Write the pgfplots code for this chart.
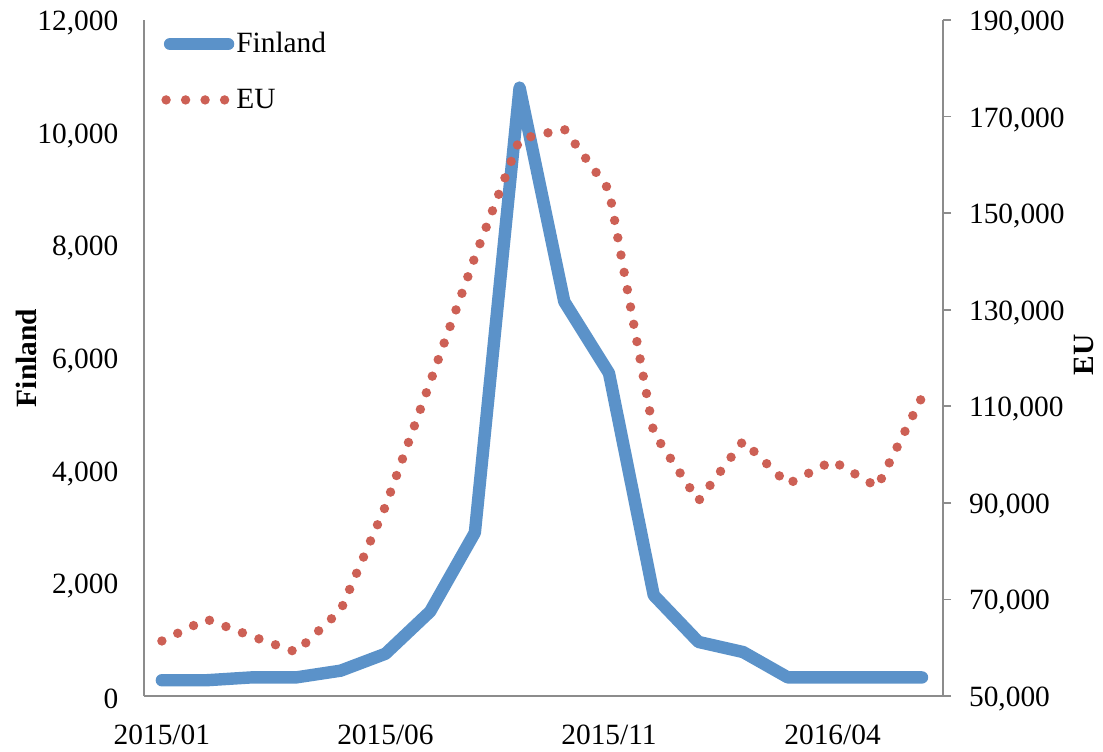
\documentclass[border=0pt]{standalone}
\usepackage{fontspec}
\setmainfont{Liberation Serif}
\usepackage{pgfplots}
\pgfplotsset{compat=1.18}
\definecolor{finblue}{RGB}{91,146,201}
\definecolor{eured}{RGB}{205,96,85}
\definecolor{axgray}{RGB}{140,140,140}

\pgfplotstableread{
x y
0 280
1 280
2 330
3 330
4 450
5 750
6 1500
7 2900
8 10800
9 7000
10 5730
11 1790
12 960
13 780
14 330
15 330
16 330
17 330
}\finland

\pgfplotstableread{
x y
0 61400
1 65900
2 62400
3 59100
4 67800
5 89300
6 115000
7 140900
8 165300
9 167400
10 154800
11 104500
12 90400
13 102800
14 93900
15 98700
16 93300
17 111900
}\eu

\newcommand{\tfont}{\fontsize{14.7pt}{17pt}\selectfont}

\begin{document}
\begin{tikzpicture}
\useasboundingbox (-72pt,-27.5pt) rectangle (479.5pt,348pt);
\begin{axis}[
  at={(0pt,0pt)}, anchor=south west,
  scale only axis, width=399.5pt, height=338pt,
  xmin=-0.4, xmax=17.47, ymin=0, ymax=12000,
  axis x line*=bottom, axis y line*=left,
  axis line style={axgray, line width=0.9pt, -},
  xtick={0,5,10,15}, xticklabels={2015/01,2015/06,2015/11,2016/04},
  ytick={0,2000,4000,6000,8000,10000,12000},
  yticklabels={0,{2,000},{4,000},{6,000},{8,000},{10,000},{12,000}},
  major tick length=0pt,
  scaled y ticks=false,
  tick label style={font=\tfont},
  yticklabel style={xshift=-9.3pt, yshift=-1.5pt},
  xticklabel style={yshift=-11pt},
  every axis y label/.style={at={(axis description cs:-0.1475,0.5)}, rotate=90, anchor=center, inner sep=0pt, font=\tfont\bfseries},
  ylabel={Finland},
  legend style={draw=none, fill=none, at={(axis description cs:0,1)}, anchor=north west,
    xshift=8.5pt, yshift=-5pt, font=\tfont, row sep=14.5pt, inner sep=0pt,
    nodes={inner sep=1pt}},
  legend cell align=left,
  legend image code/.code={\draw[#1] (3pt,0pt) -- (32pt,0pt);},
]
\addplot[finblue, line width=6.2pt, line cap=round, line join=round] table[x=x,y=y] {\finland};
\addlegendentry{Finland}
\addlegendimage{legend image code/.code={\draw[eured, line width=4.7pt, line cap=round, dash pattern=on 0pt off 9.75pt] (1pt,0pt) -- (31pt,0pt);}}
\addlegendentry{EU}
\end{axis}
\begin{axis}[
  at={(0pt,0pt)}, anchor=south west,
  scale only axis, width=399.5pt, height=338pt,
  xmin=-0.4, xmax=17.47, ymin=50000, ymax=190000,
  axis x line=none, axis y line*=right,
  xtick=\empty,
  axis line style={axgray, line width=0.9pt, -},
  ytick={50000,70000,90000,110000,130000,150000,170000,190000},
  yticklabels={{50,000},{70,000},{90,000},{110,000},{130,000},{150,000},{170,000},{190,000}},
  major tick length=4pt,
  tick style={axgray, line width=0.9pt},
  tick align=outside,
  scaled y ticks=false,
  tick label style={font=\tfont},
  yticklabel style={xshift=5.5pt, yshift=-1.5pt},
  every axis y label/.style={at={(axis description cs:1.176,0.505)}, rotate=90, anchor=center, inner sep=0pt, font=\tfont\bfseries},
  ylabel={EU},
]
\addplot[eured, line width=4.7pt, line cap=round, line join=round, dash pattern=on 0pt off 8.8pt] table[x=x,y=y] {\eu};
\end{axis}
\end{tikzpicture}
\end{document}
